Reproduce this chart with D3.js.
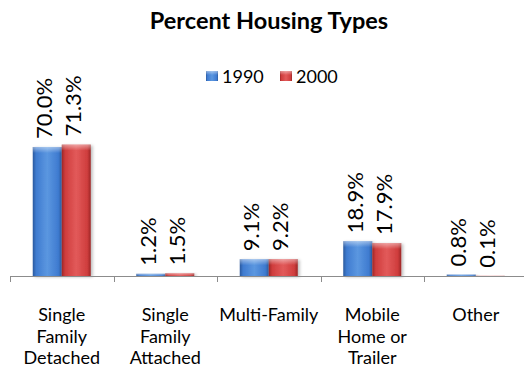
<!DOCTYPE html>
<html>
<head>
<meta charset="utf-8">
<script src="https://cdn.jsdelivr.net/npm/d3@7"></script>
<style>
  html, body { margin: 0; padding: 0; background: #fff; }
  svg { display: block; font-family: Lato, "Open Sans", sans-serif; }
</style>
</head>
<body>
<svg id="chart" width="524" height="372"></svg>
<script>
// Housing type shares by census year
const categories = [
  ["Single", "Family", "Detached"],
  ["Single", "Family", "Attached"],
  ["Multi-Family"],
  ["Mobile", "Home or", "Trailer"],
  ["Other"]
];
const seriesNames = ["1990", "2000"];
const values1990 = [70.0, 1.2, 9.1, 18.9, 0.8];
const values2000 = [71.3, 1.5, 9.2, 17.9, 0.1];
const labels1990 = ["70.0%", "1.2%", "9.1%", "18.9%", "0.8%"];
const labels2000 = ["71.3%", "1.5%", "9.2%", "17.9%", "0.1%"];
const yMax = 80;

const seriesValues = [values1990, values2000];
const seriesLabels = [labels1990, labels2000];
const palette = {
  "1990": { light: "#5b97e0", mid: "#3f7bd0", dark: "#2a5a9e" },
  "2000": { light: "#e25a5a", mid: "#cf3d3d", dark: "#9c2626" }
};

const svg = d3.select("#chart");
const defs = svg.append("defs");

// bevelled look: horizontal shading plus a lighter top edge
seriesNames.forEach(name => {
  const c = palette[name];
  const g = defs.append("linearGradient").attr("id", "grad" + name)
    .attr("x1", 0).attr("x2", 1).attr("y1", 0).attr("y2", 0);
  g.append("stop").attr("offset", "0%").attr("stop-color", c.dark);
  g.append("stop").attr("offset", "12%").attr("stop-color", c.mid);
  g.append("stop").attr("offset", "50%").attr("stop-color", c.light);
  g.append("stop").attr("offset", "88%").attr("stop-color", c.mid);
  g.append("stop").attr("offset", "100%").attr("stop-color", c.dark);
  const t = defs.append("linearGradient").attr("id", "top" + name)
    .attr("x1", 0).attr("x2", 0).attr("y1", 0).attr("y2", 1);
  t.append("stop").attr("offset", "0%").attr("stop-color", "#ffffff").attr("stop-opacity", 0.45);
  t.append("stop").attr("offset", "100%").attr("stop-color", "#ffffff").attr("stop-opacity", 0);
});
const shadow = defs.append("filter").attr("id", "shadow")
  .attr("x", "-20%").attr("y", "-20%").attr("width", "150%").attr("height", "150%");
shadow.append("feDropShadow").attr("dx", 2).attr("dy", 1).attr("stdDeviation", 1.5)
  .attr("flood-color", "#000").attr("flood-opacity", 0.25);

const baseY = 276;
const x0 = d3.scaleBand().domain(d3.range(categories.length)).range([10, 527.5]).padding(0);
const x1 = d3.scaleBand().domain(seriesNames).range([0, x0.bandwidth()])
  .paddingInner(0).paddingOuter(0.784);
const y = d3.scaleLinear().domain([0, yMax]).range([baseY, baseY - 1.843 * yMax]);

// title
svg.append("text")
  .attr("x", 269).attr("y", 29)
  .attr("text-anchor", "middle")
  .attr("font-size", 23.5).attr("font-weight", "bold").attr("fill", "#000")
  .text("Percent Housing Types");

// legend
const legend = svg.append("g");
const legendX = [206, 280];
seriesNames.forEach((name, i) => {
  const g = legend.append("g").attr("transform", `translate(${legendX[i]},71)`);
  g.append("rect").attr("width", 12).attr("height", 10)
    .attr("fill", `url(#grad${name})`);
  g.append("rect").attr("width", 12).attr("height", 4)
    .attr("fill", `url(#top${name})`);
  g.append("text").attr("x", 16).attr("y", 11.5)
    .attr("font-size", 18).attr("fill", "#000").text(name);
});

// bars
const groups = svg.append("g").selectAll("g")
  .data(categories.map((c, i) => i))
  .join("g")
  .attr("transform", i => `translate(${x0(i)},0)`);

groups.each(function(i) {
  const g = d3.select(this);
  seriesNames.forEach((name, s) => {
    const v = seriesValues[s][i];
    const bx = x1(name), bw = x1.bandwidth();
    const top = y(v), h = baseY - top;
    g.append("rect")
      .attr("x", bx).attr("y", top).attr("width", bw).attr("height", h)
      .attr("fill", `url(#grad${name})`)
      .attr("filter", "url(#shadow)");
    g.append("rect")
      .attr("x", bx).attr("y", top).attr("width", bw).attr("height", Math.min(h, 6))
      .attr("fill", `url(#top${name})`);
    g.append("text")
      .attr("transform", `translate(${bx + bw / 2 + 5},${top - 8}) rotate(-90)`)
      .attr("font-size", 22).attr("fill", "#000")
      .text(seriesLabels[s][i]);
  });
});

// category axis
const axis = svg.append("g");
axis.append("line")
  .attr("x1", 10).attr("x2", 524).attr("y1", baseY + 0.5).attr("y2", baseY + 0.5)
  .attr("stroke", "#8c8c8c").attr("stroke-width", 1);
d3.range(categories.length + 1).forEach(i => {
  const tx = Math.round(10 + i * x0.step()) + 0.5;
  axis.append("line")
    .attr("x1", tx).attr("x2", tx).attr("y1", baseY).attr("y2", baseY + 6)
    .attr("stroke", "#8c8c8c").attr("stroke-width", 1);
});

const catLabels = axis.selectAll("text.cat")
  .data(categories)
  .join("text")
  .attr("class", "cat")
  .attr("text-anchor", "middle")
  .attr("font-size", 18).attr("fill", "#000")
  .attr("transform", (d, i) => `translate(${x0(i) + x0.bandwidth() / 2},321)`);
catLabels.each(function(lines) {
  d3.select(this).selectAll("tspan")
    .data(lines)
    .join("tspan")
    .attr("x", 0)
    .attr("y", (l, j) => j * 21.6)
    .text(l => l);
});
</script>
</body>
</html>
